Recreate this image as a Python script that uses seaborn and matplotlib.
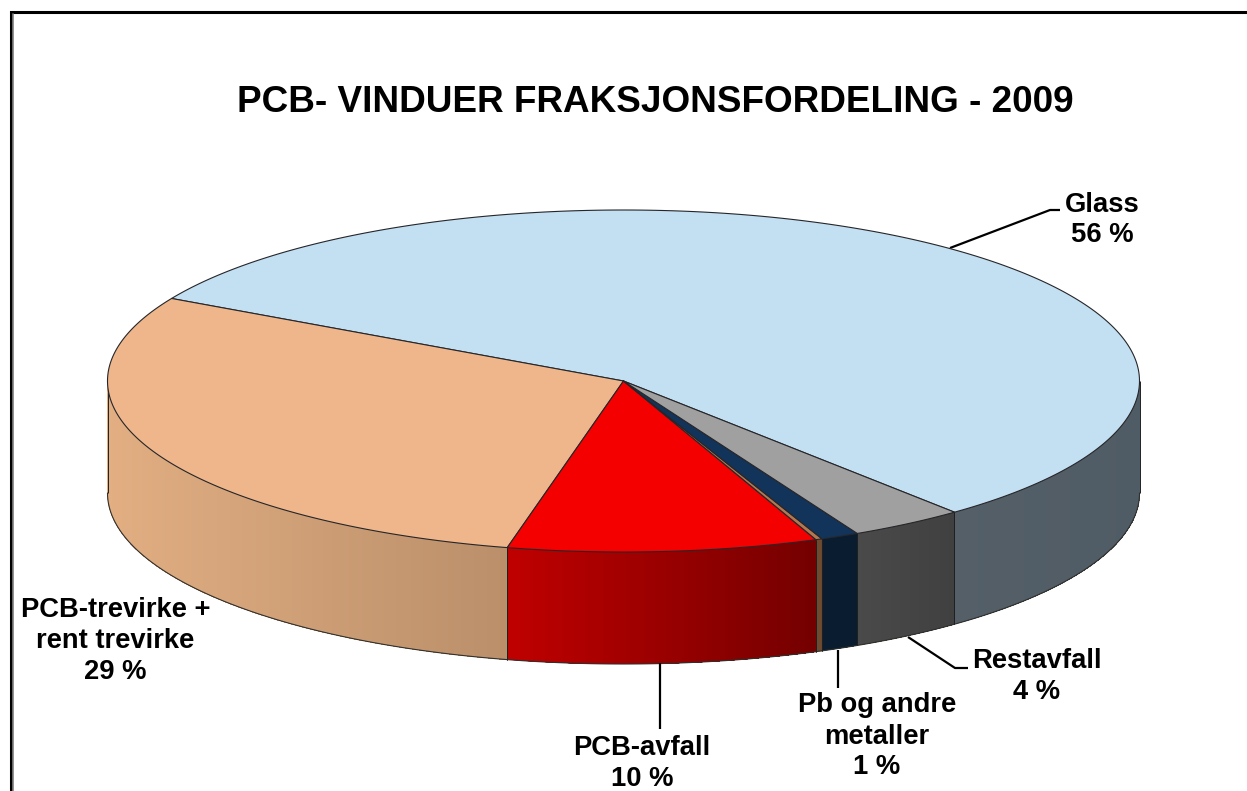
import numpy as np
import matplotlib
matplotlib.use("Agg")
import matplotlib.pyplot as plt
import seaborn as sns

title = "PCB- VINDUER FRAKSJONSFORDELING - 2009"
slices = ["Glass", "PCB-trevirke + rent trevirke", "PCB-avfall", "Annet", "Pb og andre metaller", "Restavfall"]
values = [55.9, 29.4, 9.7, 0.2, 1.2, 3.6]
top_colors = ["#c3dff2", "#eeb68a", "#f50000", "#b47850", "#12345a", "#a0a0a0"]
wall_left = ["#545f68", "#e2ae82", "#c00000", "#6e4a30", "#0a1c30", "#4a4a4a"]
wall_right = ["#505c65", "#ba8f6a", "#740000", "#6e4a30", "#0a1c30", "#404040"]
labels = ["Glass\n56 %", "PCB-trevirke +\nrent trevirke\n29 %", "PCB-avfall\n10 %",
          "Pb og andre\nmetaller\n1 %", "Restavfall\n4 %"]

sns.set_theme(style="white")
plt.rcParams["font.family"] = ["Liberation Sans", "DejaVu Sans"]

CX, CY, RX, RY, DEPTH = 623.5, 381, 516, 171, 112
START = -50.1

fig, ax = plt.subplots(figsize=(12.47, 7.91), dpi=100)
ax.set_position([0, 0, 1, 1])
ax.set_xlim(0, 1247)
ax.set_ylim(791, 0)
ax.axis("off")

def ex(t):
    return CX + RX * np.cos(np.radians(t))

def ey(t):
    return CY - RY * np.sin(np.radians(t))

bounds = START + np.concatenate([[0], np.cumsum(values)]) * 3.6

def blend(a, b, f):
    ca, cb = np.array(matplotlib.colors.to_rgb(a)), np.array(matplotlib.colors.to_rgb(b))
    return tuple(ca + (cb - ca) * f)

# side walls: only the part of the rim that faces the viewer (180..360 degrees)
for i in range(len(values)):
    a0, a1 = bounds[i], bounds[i + 1]
    ranges = []
    for lo, hi in [(180, 360), (-180, 0)]:
        s, e = max(a0, lo), min(a1, hi)
        if e > s:
            ranges.append((s, e))
    for s, e in ranges:
        n = max(2, int((e - s) * 4))
        edges = np.linspace(s, e, n + 1)
        x0, x1 = ex(s), ex(e)
        for k in range(n):
            # every strip runs on to the end of the slice, so no seams show
            t = np.linspace(edges[k], e, max(4, n - k))
            xs = np.r_[ex(t), ex(t[::-1])]
            ys = np.r_[ey(t), ey(t[::-1]) + DEPTH]
            f = (ex((edges[k] + edges[k + 1]) / 2) - x0) / (x1 - x0)
            c = blend(wall_left[i], wall_right[i], f)
            ax.fill(xs, ys, facecolor=c, edgecolor="none", zorder=2)
        t = np.linspace(s, e, 80)
        ax.plot(ex(t), ey(t) + DEPTH, color="#30302c", lw=0.8, zorder=3)
        for q in (s, e):
            ax.plot([ex(q), ex(q)], [ey(q), ey(q) + DEPTH], color="#202020", lw=0.7,
                    zorder=3, solid_capstyle="butt")

# top faces
for i in range(len(values)):
    t = np.linspace(bounds[i], bounds[i + 1], 240)
    xs = np.r_[CX, ex(t)]
    ys = np.r_[CY, ey(t)]
    ax.fill(xs, ys, facecolor=top_colors[i], edgecolor="#26262a", lw=0.8, zorder=4, joinstyle="round")

# leader lines
leaders = [([950, 1050, 1060], [248, 210, 210]),
           ([908, 955, 968], [637, 668, 668]),
           ([838, 838], [650, 688]),
           ([660, 660], [663, 729])]
for xs, ys in leaders:
    ax.plot(xs, ys, color="black", lw=1.6, zorder=3, solid_capstyle="butt")

# labels
label_pos = [(1102, 220), (115.5, 641), (642, 763.5), (877, 736.5), (1037, 676.5)]
for txt, (x, y) in zip(labels, label_pos):
    ax.text(x, y, txt, ha="center", va="center", fontsize=19.7, fontweight="bold",
            color="black", linespacing=1.25, zorder=6, clip_on=False)

ax.text(655, 102, title, ha="center", va="center", fontsize=26.55, fontweight="bold", color="black", zorder=6)

# outer frame
ax.plot([1247, 10.7, 10.7], [12, 12, 791], color="black", lw=2.2, zorder=7, solid_joinstyle="miter")
ax.plot([12.8, 12.8], [14, 791], color="#808080", lw=1.2, zorder=7)

fig.savefig("out.png", dpi=100, facecolor="white")
